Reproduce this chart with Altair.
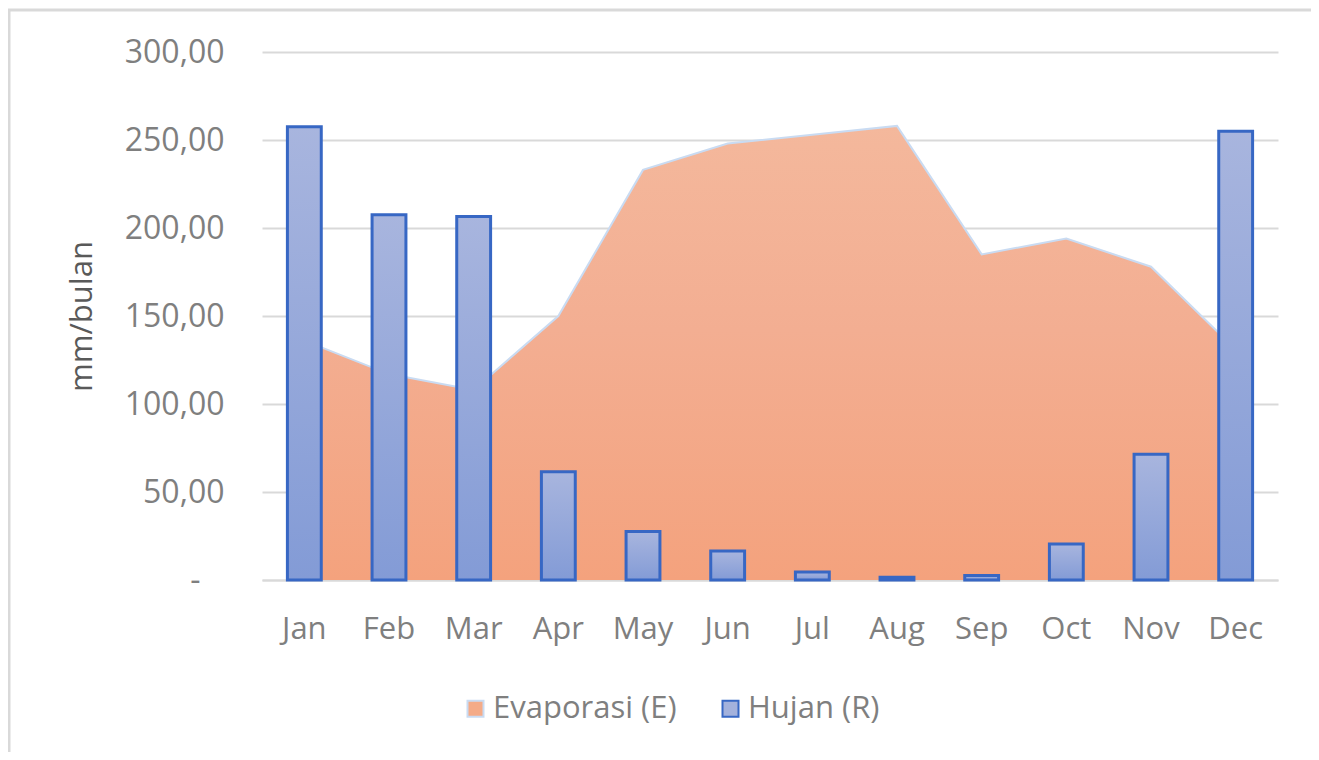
import altair as alt
import pandas as pd

months = ["Jan", "Feb", "Mar", "Apr", "May", "Jun", "Jul", "Aug", "Sep", "Oct", "Nov", "Dec"]
evaporasi = [136, 117, 108, 150, 233, 248, 253, 258, 185, 194, 178, 131]
hujan = [257.5, 207.5, 206.5, 61.5, 27.5, 16.5, 4.5, 1.5, 2.5, 20.5, 71.5, 255]
series_names = ["Evaporasi (E)", "Hujan (R)"]
y_ticks = [0, 50, 100, 150, 200, 250, 300]

df = pd.DataFrame({"month": months, "E": evaporasi, "R": hujan})
long_df = pd.concat([
    pd.DataFrame({"month": months, "value": evaporasi, "series": series_names[0]}),
    pd.DataFrame({"month": months, "value": hujan, "series": series_names[1]}),
])

FONT = "Open Sans"
W, H = 1016, 528
PAD = {"left": 254, "top": 44, "right": 33, "bottom": 172}

x_scale = alt.Scale(domain=months, paddingInner=0.6, paddingOuter=0.3)
y_scale = alt.Scale(domain=[0, 300], nice=False)

x_axis = alt.Axis(title=None, labelAngle=0, ticks=False, domain=True,
                  domainColor="#d9d9d9", domainWidth=2, labelPadding=34,
                  labelColor="#7f7f7f", labelFontSize=31, labelFont=FONT, grid=False)
y_axis = alt.Axis(title="mm/bulan", values=y_ticks, ticks=False, domain=False,
                  grid=True, gridColor="#d9d9d9", gridWidth=2,
                  labelExpr="datum.value == 0 ? '-' : replace(format(datum.value, '.2f'), '.', ',')",
                  labelColor="#7f7f7f", labelFontSize=32, labelFont=FONT,
                  labelPadding={"condition": {"test": "datum.value == 0", "value": 62}, "value": 38},
                  titleColor="#595959", titleFontSize=31, titleFont=FONT, titleFontWeight="normal",
                  titlePadding=26)

area_grad = alt.Gradient(gradient="linear", x1=0, x2=0, y1=0, y2=1,
                         stops=[alt.GradientStop(color="#f4b89c", offset=0),
                                alt.GradientStop(color="#f3ae92", offset=0.45),
                                alt.GradientStop(color="#f4a27d", offset=1)])
bar_grad = alt.Gradient(gradient="linear", x1=0, x2=0, y1=0, y2=1,
                        stops=[alt.GradientStop(color="#a8b5de", offset=0),
                               alt.GradientStop(color="#839bd6", offset=1)])

base = alt.Chart(df)

area = base.mark_area(fill=area_grad, opacity=1, line={"color": "#c9dbf2", "strokeWidth": 2}).encode(
    x=alt.X("month:N", sort=months, scale=x_scale, axis=x_axis, bandPosition=0.5),
    y=alt.Y("E:Q", scale=y_scale, axis=y_axis),
)

bars = base.mark_bar(fill=bar_grad, stroke="#3767c4", strokeWidth=3).encode(
    x=alt.X("month:N", sort=months, scale=x_scale),
    y=alt.Y("R:Q", scale=y_scale),
)

leg = dict(title=None, orient="none", direction="horizontal",
           legendX=198, legendY=641,
           symbolType="square", symbolSize=256,
           symbolStrokeWidth=2, symbolOpacity=1, labelLimit=0,
           labelFont=FONT, labelFontSize=31, labelColor="#7f7f7f",
           columnPadding=38, labelOffset=2)

legend_layer = alt.Chart(long_df).mark_square(opacity=0, size=1).encode(
    x=alt.X("month:N", sort=months, scale=x_scale),
    y=alt.Y("value:Q", scale=y_scale),
    color=alt.Color("series:N",
                    scale=alt.Scale(domain=series_names, range=["#f4ab88", "#a3b1dc"]),
                    legend=alt.Legend(**leg)),
    stroke=alt.Stroke("series:N",
                      scale=alt.Scale(domain=series_names, range=["#c9dbf2", "#3767c4"]),
                      legend=alt.Legend(**leg)),
)

frame = alt.Chart(pd.DataFrame({"k": [0]})).mark_rect(
    fill=None, stroke="#d9d9d9", strokeWidth=3
).encode(
    x=alt.value(-253), x2=alt.value(W + 40),
    y=alt.value(-42), y2=alt.value(H + 260),
)

chart = alt.layer(area, bars, legend_layer, frame).properties(
    width=W, height=H, autosize="none", padding=PAD,
).configure(background="white").configure_view(stroke=None)

chart.save("out.html", embed_options={"renderer": "svg", "actions": False})
